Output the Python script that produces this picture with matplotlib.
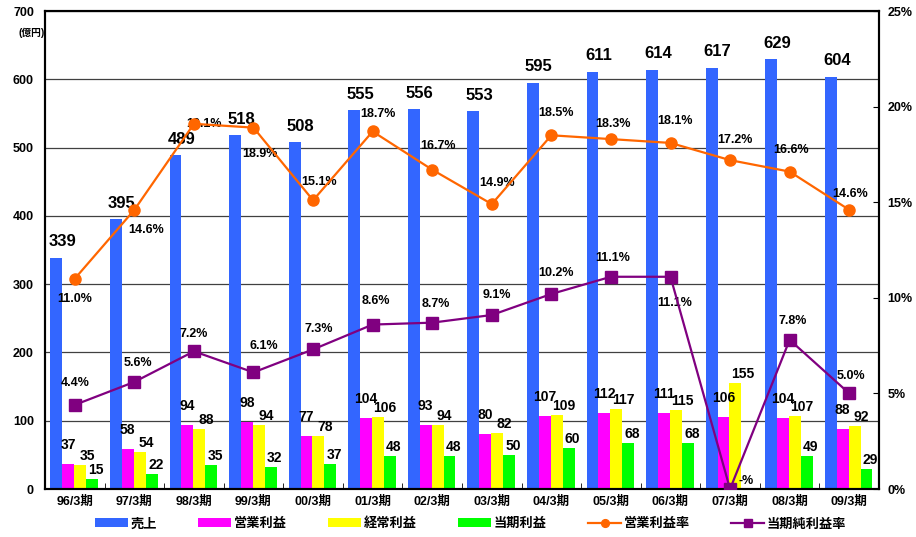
import numpy as np
import matplotlib.pyplot as plt

plt.rcParams['font.family'] = ['Liberation Sans', 'Noto Sans CJK JP']
plt.rcParams['font.weight'] = 'bold'

periods = ["96/3期", "97/3期", "98/3期", "99/3期", "00/3期", "01/3期", "02/3期",
           "03/3期", "04/3期", "05/3期", "06/3期", "07/3期", "08/3期", "09/3期"]
sales = [339, 395, 489, 518, 508, 555, 556, 553, 595, 611, 614, 617, 629, 604]
op_profit = [37, 58, 94, 98, 77, 104, 93, 80, 107, 112, 111, 106, 104, 88]
ord_profit = [35, 54, 88, 94, 78, 106, 94, 82, 109, 117, 115, 155, 107, 92]
net_profit = [15, 22, 35, 32, 37, 48, 48, 50, 60, 68, 68, 0, 49, 29]
op_margin = [11.0, 14.6, 19.1, 18.9, 15.1, 18.7, 16.7, 14.9, 18.5, 18.3, 18.1, 17.2, 16.6, 14.6]
net_margin = [4.4, 5.6, 7.2, 6.1, 7.3, 8.6, 8.7, 9.1, 10.2, 11.1, 11.1, 0.0, 7.8, 5.0]
net_margin_labels = ["4.4%", "5.6%", "7.2%", "6.1%", "7.3%", "8.6%", "8.7%", "9.1%",
                     "10.2%", "11.1%", "11.1%", "-%", "7.8%", "5.0%"]

# label offsets in pixels (layout only)
op_off = [(0, -20), (12, -20), (10, 0), (6, -26), (6, 18), (5, 17), (6, 24), (5, 21),
          (5, 22), (2, 15), (5, 22), (5, 20), (1, 22), (1, 16)]
net_off = [(0, 22), (4, 19), (0, 17), (10, 26), (6, 20), (3, 24), (4, 19), (5, 20),
           (5, 21), (2, 19), (4, -26), (16, 8), (3, 19), (2, 17)]
bar_off = [(6, 16), (0, 19), (7, 9), (4, 9)]
bar_size = [12, 10, 10, 10]

x = np.arange(len(periods))
w = 0.2

fig = plt.figure(figsize=(9.16, 5.37), dpi=100)
ax = fig.add_axes([45/916, 1-489/537, 834/916, 478/537])
ax2 = ax.twinx()

series = [(sales, "売上", "#3366FF"), (op_profit, "営業利益", "#FF00FF"),
          (ord_profit, "経常利益", "#FFFF00"), (net_profit, "当期利益", "#00FF00")]
handles = []
for k, (vals, name, col) in enumerate(series):
    pos = x + (k - 1.5) * w - 0.01
    b = ax.bar(pos, vals, w, color=col, label=name, zorder=2)
    handles.append(b)
    for p, v in zip(pos, vals):
        if v == 0:
            continue
        ax.annotate(str(v), (p, v), xytext=bar_off[k], textcoords='offset pixels',
                    ha='center', va='center', fontsize=bar_size[k], zorder=5)

ax.set_xlim(-0.5, len(periods) - 0.5)
ax.set_ylim(0, 700)
ax.set_yticks(range(0, 701, 100))
ax.yaxis.grid(True, color='#404040', linewidth=0.9, zorder=0)
ax.set_axisbelow(True)
ax.set_xticks(x)
ax.set_xticklabels(periods, fontsize=9)
ax.set_xticks(np.arange(-0.5, len(periods)), minor=True)
ax.tick_params(axis='x', which='major', length=0, pad=5)
ax.tick_params(axis='x', which='minor', length=4, direction='in')
ax.tick_params(axis='y', length=0, labelsize=9, pad=8)
ax.text(-0.016, 0.955, "(億円)", transform=ax.transAxes, ha='center', va='center',
        fontsize=7)

l1, = ax2.plot(x, op_margin, color='#FF6600', marker='o', markersize=8, linewidth=1.6,
               label="営業利益率", zorder=4)
l2, = ax2.plot(x, net_margin, color='#800080', marker='s', markersize=9, linewidth=1.6,
               label="当期純利益率", zorder=4)
for i in range(len(periods)):
    ax2.annotate(f"{op_margin[i]:.1f}%", (x[i], op_margin[i]), xytext=op_off[i],
                 textcoords='offset pixels', ha='center', va='center', fontsize=9)
    ax2.annotate(net_margin_labels[i], (x[i], net_margin[i]), xytext=net_off[i],
                 textcoords='offset pixels', ha='center', va='center', fontsize=9)
ax2.set_ylim(0, 25)
ax2.set_yticks(range(0, 26, 5))
ax2.set_yticklabels([f"{v}%" for v in range(0, 26, 5)], fontsize=9)
ax2.tick_params(axis='y', direction='in', length=4, pad=6)

for a in (ax, ax2):
    for s in a.spines.values():
        s.set_linewidth(1.5)
        s.set_color('black')

labels = [h.get_label() for h in handles] + ["営業利益率", "当期純利益率"]
fig.legend(handles + [l1, l2], labels, loc='lower left',
           bbox_to_anchor=(88/916, 0.0, 765/916, 0.06), mode='expand', ncol=6,
           frameon=False, fontsize=9.5, handlelength=2.5, handleheight=0.7,
           handletextpad=0.2, markerscale=0.7, borderaxespad=0.1)

fig.savefig("out.png", dpi=100)
